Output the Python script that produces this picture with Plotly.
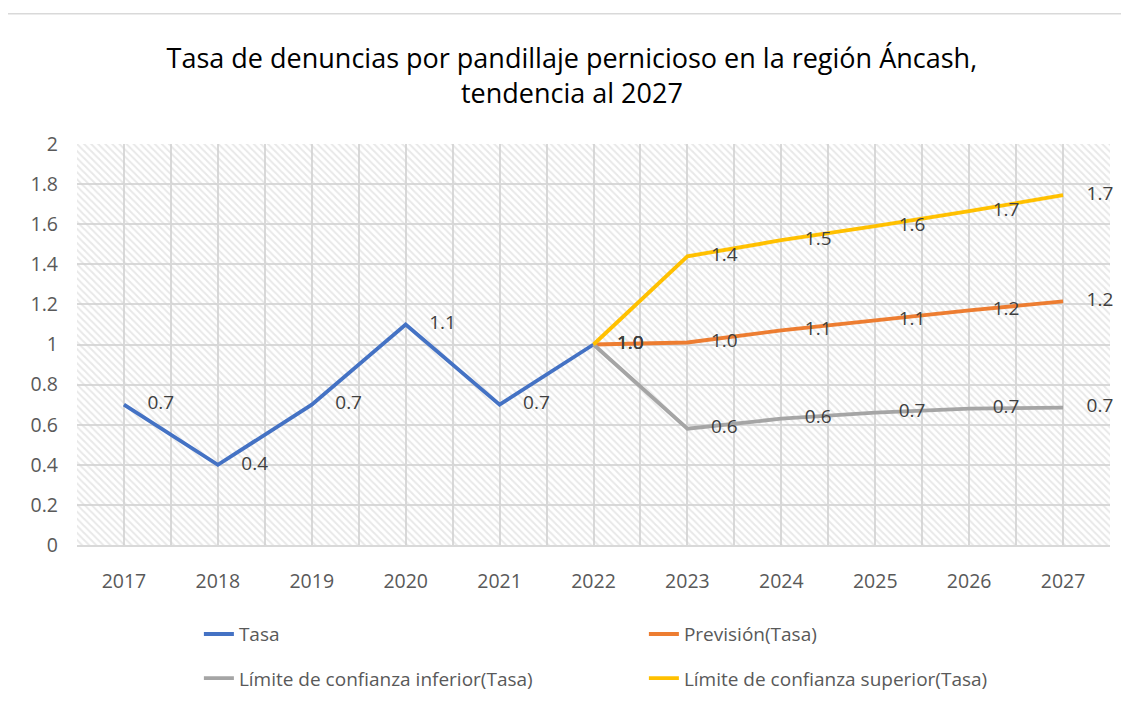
import plotly.graph_objects as go

years = [2017, 2018, 2019, 2020, 2021, 2022, 2023, 2024, 2025, 2026, 2027]
tasa_years = [2017, 2018, 2019, 2020, 2021, 2022]
tasa = [0.7, 0.4, 0.7, 1.1, 0.7, 1.0]
fc_years = [2022, 2023, 2024, 2025, 2026, 2027]
prevision = [1.0, 1.01, 1.07, 1.12, 1.17, 1.215]
lim_inf = [1.0, 0.58, 0.63, 0.66, 0.68, 0.685]
lim_sup = [1.0, 1.44, 1.52, 1.59, 1.665, 1.745]
y_ticks = [0, 0.2, 0.4, 0.6, 0.8, 1, 1.2, 1.4, 1.6, 1.8, 2]

FONT = "Open Sans"
TXT = "#595959"
LBL = "#404040"

fig = go.Figure()

# hatched plot-area background
fig.add_trace(go.Bar(
    x=years, y=[max(y_ticks)] * len(years), width=1,
    marker=dict(color="rgba(0,0,0,0)", line=dict(width=0),
                pattern=dict(shape="\\", size=5, solidity=0.4,
                             fgcolor="#d2d2d2", bgcolor="rgba(0,0,0,0)")),
    hoverinfo="skip", showlegend=False))

series = [
    ("Tasa", tasa_years, tasa, "#4472C4", "legend"),
    ("Previsión(Tasa)", fc_years, prevision, "#ED7D31", "legend"),
    ("Límite de confianza inferior(Tasa)", fc_years, lim_inf, "#A5A5A5", "legend2"),
    ("Límite de confianza superior(Tasa)", fc_years, lim_sup, "#FFC000", "legend2"),
]
for name, xs, ys, col, lg in series:
    fig.add_trace(go.Scatter(
        x=xs, y=ys, name=name, mode="lines+markers+text",
        line=dict(color=col, width=3.8),
        marker=dict(size=36, color="rgba(0,0,0,0)"),
        texttemplate="%{y:.1f}", textposition="middle right",
        textfont=dict(family=FONT, size=19, color=LBL),
        cliponaxis=False, legend=lg))

fig.update_layout(
    width=1121, height=701,
    margin=dict(l=69, r=19, t=136, b=159),
    paper_bgcolor="white", plot_bgcolor="white",
    bargap=0,
    font=dict(family=FONT, color=TXT, size=19),
    title=dict(
        text="Tasa de denuncias por pandillaje pernicioso en la región Áncash,<br>tendencia al 2027",
        x=0.503, xanchor="center", y=0.915, yanchor="top",
        font=dict(family=FONT, size=27, color="black")),
    xaxis=dict(range=[2016.5, 2027.5], tickmode="array", tickvals=years,
               ticktext=[str(y) for y in years],
               showgrid=True, gridcolor="#d9d9d9", gridwidth=1.5,
               minor=dict(tick0=2016.5, dtick=1, showgrid=True,
                          gridcolor="#d9d9d9", gridwidth=1.5),
               showline=True, linecolor="#d9d9d9", linewidth=1.5,
               zeroline=False, ticks="", ticklabelstandoff=18,
               tickfont=dict(family=FONT, size=19.5, color=TXT)),
    yaxis=dict(range=[0, 2], tickmode="array", tickvals=y_ticks,
               ticktext=[f"{v:g}" for v in y_ticks],
               showgrid=True, gridcolor="#d9d9d9", gridwidth=1.5,
               zeroline=False, ticks="", ticklabelstandoff=18,
               tickfont=dict(family=FONT, size=19.5, color=TXT)),
    legend=dict(orientation="h", x=0.118, xanchor="left", y=-0.175, yanchor="top",
                entrywidth=400, entrywidthmode="pixels",
                font=dict(family=FONT, size=19, color=TXT),
                bgcolor="rgba(0,0,0,0)"),
    legend2=dict(orientation="h", x=0.118, xanchor="left", y=-0.285, yanchor="top",
                 entrywidth=400, entrywidthmode="pixels",
                 font=dict(family=FONT, size=19, color=TXT),
                 bgcolor="rgba(0,0,0,0)"),
    shapes=[dict(type="rect", xref="paper", yref="paper",
                 x0=-0.0678, x1=1.03, y0=-0.45, y1=1.325,
                 line=dict(color="#d9d9d9", width=1.5), layer="below")],
)

fig.write_html("out.html")
